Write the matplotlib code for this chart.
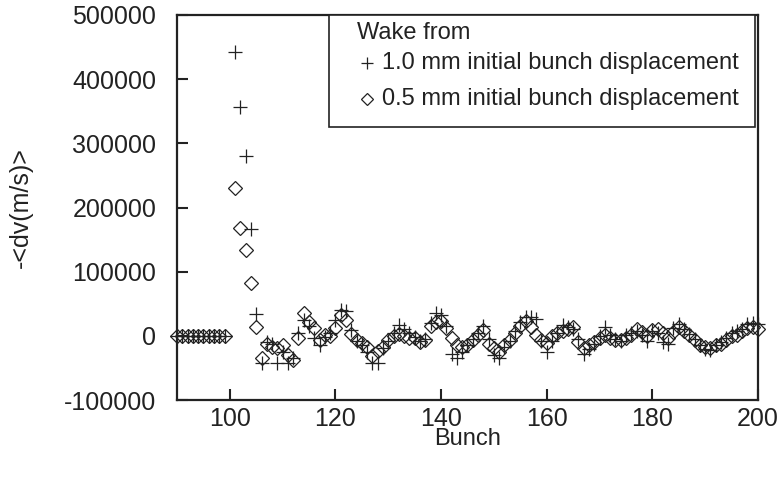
import matplotlib
matplotlib.use("Agg")
import matplotlib.pyplot as plt
from matplotlib.lines import Line2D
from matplotlib.patches import Rectangle

plt.rcParams['font.family'] = ['Liberation Sans', 'DejaVu Sans']

bunch_zero = list(range(90, 100))
bunch_tail = list(range(101, 201))
bunches = bunch_zero + bunch_tail

wake_1mm_tail = [
    442000, 356000, 280000, 166000, 34000, -42000, -10000, -12000, -43000, -25000,
    -43000, -35000, 5000, 25000, 15000, -3000, -14000, -2000, 5000, 25000,
    40000, 38000, 9000, -8000, -14000, -25000, -42000, -43000, -19000, -8000,
    5000, 17000, 10000, 5000, -2000, -8000, -5000, 20000, 35000, 33000,
    15000, -28000, -35000, -25000, -15000, -5000, 5000, 15000, -5000, -30000,
    -35000, -18000, -8000, 8000, 22000, 30000, 30000, 27000, -8000, -25000,
    -8000, 5000, 17000, 14000, 10000, -5000, -28000, -20000, -12000, 0,
    14000, 2000, -5000, -8000, 2000, 5000, 8000, 2000, -8000, 7000,
    5000, -10000, -12000, 12000, 18000, 10000, 3000, -5000, -15000, -20000,
    -22000, -15000, -10000, -3000, 5000, 8000, 10000, 18000, 20000, 18000,
]
wake_05mm_tail = [
    231000, 168000, 134000, 83000, 13000, -35000, -12000, -17000, -19000, -14000,
    -30000, -37000, -4000, 35000, 22000, 12000, -6000, 1500, -1000, 12000,
    32000, 25000, 3000, -6000, -11000, -17000, -32000, -24000, -17000, -6000,
    -1000, 2500, 0, -3000, -4000, -10000, -6000, 15000, 22000, 23000,
    12000, -4000, -14000, -18000, -14000, -6000, 2000, 9000, -13000, -19000,
    -25000, -14000, -6000, 5000, 16000, 23000, 14000, 2000, -6000, -11000,
    -1000, 4000, 7000, 10000, 13000, -10000, -19000, -14000, -9000, -4000,
    1500, -3500, -6000, -6000, -3500, 1500, 10000, 6000, -1000, 9000,
    11000, 4000, -3500, 6000, 14000, 7000, 1500, -6000, -14000, -17000,
    -19000, -14000, -12000, -6000, -1000, 2000, 7000, 12000, 14000, 10000,
]
wake_1mm = [0] * len(bunch_zero) + wake_1mm_tail
wake_05mm = [0] * len(bunch_zero) + wake_05mm_tail

x_ticks = [100, 120, 140, 160, 180, 200]
y_ticks = [-100000, 0, 100000, 200000, 300000, 400000, 500000]
legend_title = "Wake from"
label_1mm = "1.0 mm initial bunch displacement"
label_05mm = "0.5 mm initial bunch displacement"

W, H = 780, 483
ink = '#222222'
fig = plt.figure(figsize=(W / 100, H / 100), dpi=100)
ax = fig.add_axes([177 / W, 1 - 400 / H, (758 - 177) / W, (400 - 15) / H])

ax.plot(bunches, wake_1mm, linestyle='none', marker='+', markersize=10,
        markeredgewidth=0.9, color=ink, clip_on=False, zorder=3)
ax.plot(bunches, wake_05mm, linestyle='none', marker='D', markersize=7,
        markeredgewidth=0.9, markerfacecolor='none', markeredgecolor=ink,
        clip_on=False, zorder=3)

ax.set_xlim(90, 200)
ax.set_ylim(-100000, 500000)
ax.set_xticks(x_ticks)
ax.set_yticks(y_ticks)
ax.set_xticklabels([str(v) for v in x_ticks])
ax.set_yticklabels([str(v) for v in y_ticks])
ax.tick_params(direction='in', length=8, width=1.5, labelsize=18, pad=5,
               colors=ink)
ax.tick_params(axis='y', pad=15)
for s in ax.spines.values():
    s.set_linewidth(1.6)
    s.set_color(ink)

ax.set_xlabel("Bunch", fontsize=17, color=ink, labelpad=-2)
ax.set_ylabel("-<dv(m/s)>", fontsize=18, color=ink)
ax.yaxis.set_label_coords(-(177 - 33) / (758 - 177), 0.5)

# legend box drawn in figure pixel space
def fx(px):
    return px / W

def fy(py):
    return 1 - py / H

fig.patches.append(Rectangle((fx(329), fy(127)), fx(755) - fx(329), fy(15) - fy(127),
                             transform=fig.transFigure, facecolor='white',
                             edgecolor=ink, linewidth=1.2, zorder=5))
fig.text(fx(357), fy(33), legend_title, fontsize=17, color=ink,
         va='center', ha='left', zorder=6)
fig.add_artist(Line2D([fx(367)], [fy(63)], linestyle='none', marker='+',
                      markersize=8, markeredgewidth=0.9, color=ink,
                      transform=fig.transFigure, zorder=6))
fig.text(fx(382), fy(63), label_1mm, fontsize=17, color=ink,
         va='center', ha='left', zorder=6)
fig.add_artist(Line2D([fx(367)], [fy(99)], linestyle='none', marker='D',
                      markersize=6, markeredgewidth=0.9, markerfacecolor='none',
                      markeredgecolor=ink, transform=fig.transFigure, zorder=6))
fig.text(fx(382), fy(99), label_05mm, fontsize=17, color=ink,
         va='center', ha='left', zorder=6)

fig.savefig("out.png", dpi=100)
